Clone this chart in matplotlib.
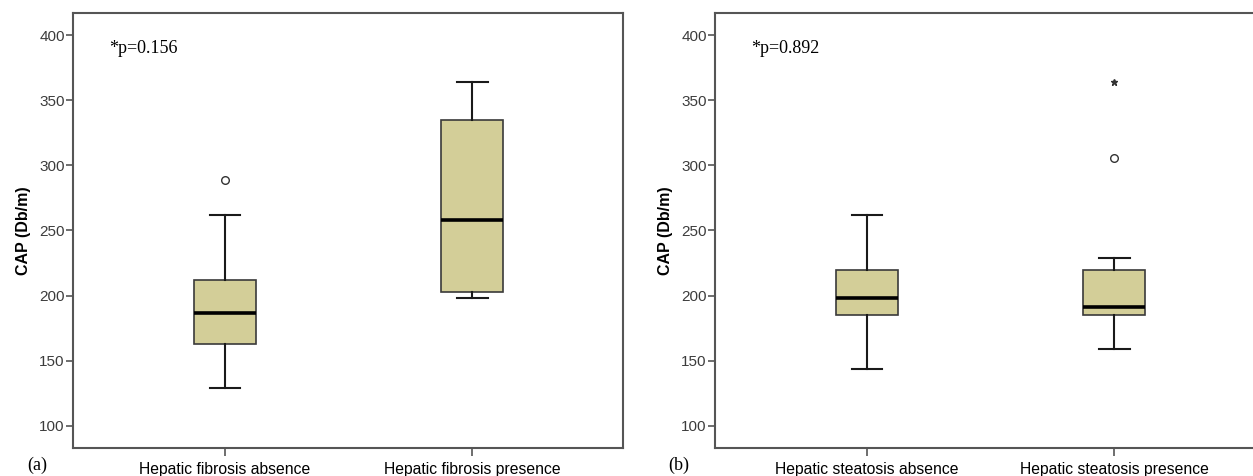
import matplotlib
matplotlib.use("Agg")
import matplotlib.pyplot as plt

# values (CAP, Db/m)
fib_labels = ["Hepatic fibrosis absence", "Hepatic fibrosis presence"]
fib_whislo = [129, 198]
fib_q1 = [163, 203]
fib_med = [187, 258]
fib_q3 = [212, 335]
fib_whishi = [262, 364]
fib_fliers = [[289], []]
fib_extremes = [[], []]

ste_labels = ["Hepatic steatosis absence", "Hepatic steatosis presence"]
ste_whislo = [144, 159]
ste_q1 = [185, 185]
ste_med = [198, 191]
ste_q3 = [220, 220]
ste_whishi = [262, 229]
ste_fliers = [[], [306]]
ste_extremes = [[], [364]]

p_texts = ["*p=0.156", "*p=0.892"]
panel_tags = ["(a)", "(b)"]
yticks = [100, 150, 200, 250, 300, 350, 400]

W, H = 1253, 476
fig = plt.figure(figsize=(W / 100, H / 100), dpi=100)

box_color = "#d3ce98"
spine_color = "#555555"


def draw_panel(left_px, labels, whislo, q1, med, q3, whishi, fliers, extremes, ptxt, tag):
    ax = fig.add_axes([left_px / W, (H - 448) / H, 550 / W, 435 / H])
    stats = []
    for i in range(len(labels)):
        stats.append(dict(whislo=whislo[i], q1=q1[i], med=med[i], q3=q3[i],
                          whishi=whishi[i], fliers=fliers[i]))
    ax.bxp(stats, positions=[1, 2], widths=0.25, patch_artist=True,
           boxprops=dict(facecolor=box_color, edgecolor="#3a3a3a", linewidth=1.2),
           medianprops=dict(color="black", linewidth=2.6),
           whiskerprops=dict(color="#1a1a1a", linewidth=1.5),
           capprops=dict(color="#1a1a1a", linewidth=1.5),
           flierprops=dict(marker="o", markersize=5.5, markerfacecolor="white",
                           markeredgecolor="#333333", markeredgewidth=1.0))
    # extreme values (SPSS star)
    for i, ext in enumerate(extremes):
        if ext:
            ax.plot([i + 1] * len(ext), ext, linestyle="none", marker="*",
                    markersize=5, color="#333333")

    ax.set_xlim(0.385, 2.61)
    ax.set_ylim(83, 417)
    ax.set_yticks(yticks)
    ax.set_xticks([1, 2])
    ax.set_xticklabels(labels, fontsize=11.3, family="Liberation Sans", color="black")
    ax.tick_params(axis="y", direction="out", length=5, width=1.2, colors=spine_color,
                   labelsize=11, labelcolor="#3c3c3c", pad=1)
    ax.tick_params(axis="x", direction="out", length=6, width=1.2, colors=spine_color,
                   labelcolor="black", pad=4)
    for lab in ax.get_yticklabels():
        lab.set_family("Liberation Sans")
    for s in ax.spines.values():
        s.set_color(spine_color)
        s.set_linewidth(1.5)
    ax.set_ylabel("CAP (Db/m)", fontsize=11.5, fontweight="bold",
                  family="Liberation Sans", labelpad=6)
    ax.text(0.53, 390, ptxt, fontsize=13, family="Liberation Serif", va="center")
    fig.text((left_px - 36) / W, 1 - 465 / H, tag, fontsize=13,
             family="Liberation Serif", va="center", ha="center")
    return ax


draw_panel(73, fib_labels, fib_whislo, fib_q1, fib_med, fib_q3, fib_whishi,
           fib_fliers, fib_extremes, p_texts[0], panel_tags[0])
draw_panel(715, ste_labels, ste_whislo, ste_q1, ste_med, ste_q3, ste_whishi,
           ste_fliers, ste_extremes, p_texts[1], panel_tags[1])

fig.savefig("out.png", dpi=100)
